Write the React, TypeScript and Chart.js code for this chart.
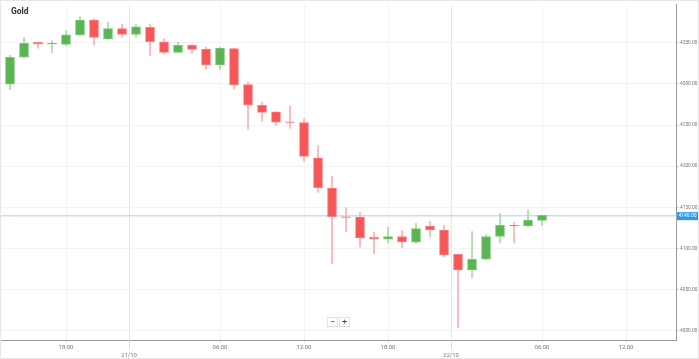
import React, { useEffect, useRef } from "react";
import { Chart, registerables } from "chart.js";

Chart.register(...registerables);

// Candle index (hourly bars, market break skipped)
const candleIndex = [
  0, 1, 2, 3, 4, 5, 6, 7, 8, 9, 10, 11, 12, 13, 14, 15, 16, 17, 18, 19,
  20, 21, 22, 23, 24, 25, 26, 27, 28, 29, 30, 31, 32, 33, 34, 35, 36, 37, 38,
];
const opens = [
  4299.6, 4332.4, 4350.4, 4348.6, 4348.0, 4359.6, 4377.6, 4354.8, 4367.2, 4360.0,
  4368.7, 4351.2, 4338.4, 4346.8, 4342.3, 4323.1, 4342.8, 4299.1, 4273.9, 4266.0,
  4254.0, 4253.1, 4210.3, 4173.5, 4138.7, 4138.2, 4113.9, 4111.5, 4114.7, 4107.9,
  4127.4, 4122.6, 4093.1, 4074.2, 4087.1, 4114.7, 4128.3, 4127.4, 4134.3,
];
const highs = [
  4334.8, 4356.0, 4351.2, 4352.4, 4364.8, 4381.6, 4379.5, 4375.2, 4372.3, 4372.0,
  4372.3, 4355.2, 4350.4, 4348.0, 4344.4, 4344.4, 4343.5, 4302.0, 4278.0, 4266.0,
  4273.5, 4257.9, 4225.2, 4187.9, 4149.9, 4144.0, 4120.2, 4125.9, 4121.9, 4130.7,
  4133.1, 4128.3, 4093.1, 4120.7, 4117.1, 4142.7, 4132.2, 4147.1, 4140.5,
];
const lows = [
  4293.1, 4331.5, 4343.5, 4338.0, 4346.4, 4359.0, 4347.1, 4354.0, 4357.2, 4356.7,
  4333.9, 4336.3, 4338.0, 4337.2, 4318.0, 4318.0, 4294.0, 4245.1, 4255.2, 4249.9,
  4245.9, 4205.9, 4168.2, 4081.8, 4120.2, 4101.9, 4093.8, 4107.0, 4101.0, 4106.7,
  4113.9, 4089.8, 4004.3, 4064.3, 4086.5, 4107.0, 4107.0, 4127.0, 4127.9,
];
const closes = [
  4332.4, 4349.2, 4348.3, 4349.2, 4359.6, 4377.6, 4356.4, 4367.2, 4360.0, 4369.2,
  4351.2, 4338.4, 4346.8, 4342.0, 4323.1, 4343.5, 4298.7, 4274.4, 4265.5, 4253.5,
  4253.1, 4211.9, 4173.9, 4138.7, 4137.9, 4113.0, 4111.5, 4114.7, 4108.2, 4124.3,
  4122.6, 4092.2, 4074.2, 4087.1, 4114.7, 4128.3, 4127.4, 4134.6, 4140.3,
];

const yTicks = [4000, 4050, 4100, 4150, 4200, 4250, 4300, 4350];
const xTickValues = [4, 8.5, 15, 21, 27, 31.5, 38, 44];
const xTickLabels = ["18:00", "21/10", "06:00", "12:00", "18:00", "22/10", "06:00", "12:00"];
const xTickIsDay = [false, true, false, false, false, true, false, false];
const currentPrice = 4140.0;
const title = "Gold";

const GREEN = "#58b552";
const GREEN_BORDER = "#7cc676";
const RED = "#f65656";
const RED_BORDER = "#f88080";
const GREEN_WICK = "#a8dba3";
const RED_WICK = "#f9b0b0";

export default function App() {
  const ref = useRef<HTMLCanvasElement | null>(null);

  useEffect(() => {
    document.body.style.margin = "0";
    const canvas = ref.current!;
    const up = closes.map((c, i) => c >= opens[i]);

    const overlay = {
      id: "overlay",
      beforeDatasetsDraw(chart: any) {
        const { ctx, chartArea } = chart;
        const y = chart.scales.y.getPixelForValue(currentPrice);
        ctx.save();
        ctx.strokeStyle = "#c4e0f5";
        ctx.lineWidth = 1.5;
        ctx.beginPath();
        ctx.moveTo(chartArea.left, y);
        ctx.lineTo(chartArea.right, y);
        ctx.stroke();
        ctx.restore();
      },
      afterDraw(chart: any) {
        const { ctx, chartArea } = chart;
        ctx.save();
        // title
        ctx.fillStyle = "#333";
        ctx.font = "bold 8.5px Roboto";
        ctx.textBaseline = "middle";
        ctx.textAlign = "left";
        ctx.fillText(title, 10, 11);
        // day tick marks
        ctx.strokeStyle = "#bbb";
        ctx.setLineDash([1, 1]);
        ctx.lineWidth = 1;
        xTickValues.forEach((v, i) => {
          if (!xTickIsDay[i]) return;
          const x = Math.round(chart.scales.x.getPixelForValue(v)) + 0.5;
          ctx.beginPath();
          ctx.moveTo(x, chartArea.bottom);
          ctx.lineTo(x, chartArea.bottom + 9);
          ctx.stroke();
        });
        ctx.setLineDash([]);
        // price label
        const y = chart.scales.y.getPixelForValue(currentPrice);
        ctx.fillStyle = "#2e9be6";
        ctx.fillRect(chartArea.right + 1, y - 3.5, 21, 8);
        ctx.fillStyle = "#fff";
        ctx.font = "5px Roboto";
        ctx.textAlign = "center";
        ctx.fillText(currentPrice.toFixed(2), chartArea.right + 11.5, y + 0.5);
        ctx.restore();
      },
    };

    const chart = new Chart(canvas, {
      type: "bar",
      data: {
        datasets: [
          {
            label: "body",
            order: 0,
            grouped: false,
            barThickness: 9,
            borderWidth: 1,
            borderSkipped: false,
            data: candleIndex.map((x, i) => ({ x, y: [opens[i], closes[i]] })),
            backgroundColor: up.map((u) => (u ? GREEN : RED)),
            borderColor: up.map((u) => (u ? GREEN_BORDER : RED_BORDER)),
          } as any,
          {
            label: "wick",
            order: 1,
            grouped: false,
            barThickness: 1,
            borderWidth: 0,
            data: candleIndex.map((x, i) => ({ x, y: [lows[i], highs[i]] })),
            backgroundColor: up.map((u) => (u ? GREEN_WICK : RED_WICK)),
          } as any,
        ],
      },
      options: {
        animation: false,
        responsive: false,
        maintainAspectRatio: false,
        devicePixelRatio: 1,
        layout: { padding: 0 },
        plugins: { legend: { display: false }, tooltip: { enabled: false } },
        scales: {
          x: {
            type: "linear",
            min: -0.643,
            max: 47.57,
            offset: false,
            afterBuildTicks: (scale: any) => {
              scale.ticks = xTickValues.map((value) => ({ value }));
            },
            afterFit: (scale: any) => {
              scale.height = 18;
            },
            ticks: {
              autoSkip: false,
              maxRotation: 0,
              padding: 1,
              color: "#777",
              font: { size: 6, family: "Roboto", lineHeight: 1.25 },
              callback: (v: any, i: number) =>
                xTickIsDay[i] ? ["", xTickLabels[i]] : xTickLabels[i],
            },
            grid: {
              offset: false,
              color: (c: any) => (xTickIsDay[c.index] ? "#e6e6e6" : "#f3f3f3"),
              tickLength: 3,
              tickColor: (c: any) => (xTickIsDay[c.index] ? "rgba(0,0,0,0)" : "#ddd"),
            },
            border: { color: "#9a9a9a", width: 1 },
          },
          y: {
            type: "linear",
            position: "right",
            min: 3989,
            max: 4396,
            afterBuildTicks: (scale: any) => {
              scale.ticks = yTicks.map((value) => ({ value }));
            },
            afterFit: (scale: any) => {
              scale.width = 22;
            },
            ticks: {
              padding: 1,
              color: "#777",
              font: { size: 4.8, family: "Roboto" },
              callback: (v: any) => Number(v).toFixed(2),
            },
            grid: { color: "#f3f3f3", tickLength: 3, tickColor: "#ccc" },
            border: { color: "#9a9a9a", width: 1 },
          },
        },
      } as any,
      plugins: [overlay],
    });
    return () => chart.destroy();
  }, []);

  const btn: React.CSSProperties = {
    position: "absolute",
    top: 316,
    width: 9,
    height: 8,
    border: "1px solid #e2e2e2",
    background: "#fff",
    color: "#444",
    fontFamily: "Roboto",
    fontSize: 9,
    lineHeight: "8px",
    textAlign: "center",
    boxSizing: "content-box",
  };

  return (
    <div
      style={{
        position: "absolute",
        left: 0,
        top: 0,
        width: 699,
        height: 359,
        boxSizing: "border-box",
        border: "1px solid #e6e6e6",
        background: "#fff",
      }}
    >
      <canvas ref={ref} width={697} height={357} style={{ display: "block" }} />
      <div style={{ ...btn, left: 326 }}>−</div>
      <div style={{ ...btn, left: 338 }}>+</div>
    </div>
  );
}
